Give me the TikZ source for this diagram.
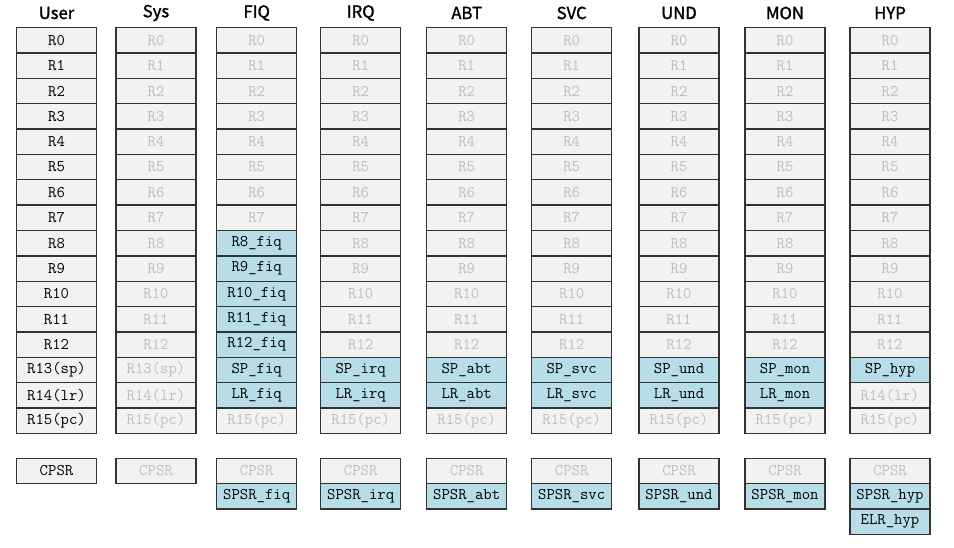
\documentclass[tikz,border=0pt]{standalone}
\usepackage{fontspec}
\usetikzlibrary{positioning}
\newfontfamily\headfont[FakeBold=1.6]{Noto Sans CJK SC}
\definecolor{cellgray}{HTML}{F2F2F2}
\definecolor{dimtext}{HTML}{BFBFBF}
\definecolor{bankblue}{HTML}{B7DEE8}
\definecolor{cellline}{HTML}{333333}
\tikzset{
  cell/.style={draw=cellline,line width=1pt,fill=cellgray,anchor=north west,
    minimum width=60pt,minimum height=19pt,inner sep=0,outer sep=0,
    font=\ttfamily\fontsize{12.2}{13}\selectfont},
  live/.style={cell,text=black},
  dim/.style={cell,text=dimtext},
  bank/.style={cell,fill=bankblue,text=black},
  head/.style={font=\headfont\fontsize{12.5}{14}\selectfont}
}
\def \rh {25.35}

\begin{document}
\begin{tikzpicture}[x=0.75pt,y=-0.75pt]
  \useasboundingbox (0,0) rectangle (954,548);
  % one column per mode: name/left/title/suffix/style/first and last banked row
  \foreach \c/\x/\lab/\m/\s/\a/\b in {user/16.5/User/usr/live/99/99,
      sys/116/Sys/sys/dim/99/99, fiq/216.7/FIQ/fiq/dim/8/14,
      irq/320.7/IRQ/irq/dim/13/14, abt/426.7/ABT/abt/dim/13/14,
      svc/531.7/SVC/svc/dim/13/14, und/639/UND/und/dim/13/14,
      mon/745/MON/mon/dim/13/14, hyp/850/HYP/hyp/dim/13/13}{
    \node[head] (\c-head) at (\x+40,13) {\lab};
    \foreach \i/\t in {0/R0,1/R1,2/R2,3/R3,4/R4,5/R5,6/R6,7/R7,8/R8,9/R9,
        10/R10,11/R11,12/R12,13/R13(sp),14/R14(lr),15/R15(pc)}{
      \ifnum\i<\a \def\st{\s}\else\ifnum\i>\b \def\st{\s}\else\def\st{bank}\fi\fi
      \node[\st] (\c-r\i) at (\x,27.7+\i*\rh)
        {\ifnum\i<\a \t\else\ifnum\i>\b \t\else
          \ifnum\i<13 R\i\_\m\else\ifnum\i=13 SP\_\m\else LR\_\m\fi\fi\fi\fi};
    }
    \node[\s] (\c-cpsr) at (\x,458.3) {CPSR};
    \ifnum\a<99 \node[bank] (\c-spsr) at (\x,458.3+\rh) {SPSR\_\m}; \fi
    \ifnum\b=13 \node[bank] (\c-elr) at (\x,458.3+2*\rh) {ELR\_\m}; \fi
  }
\end{tikzpicture}
\end{document}
